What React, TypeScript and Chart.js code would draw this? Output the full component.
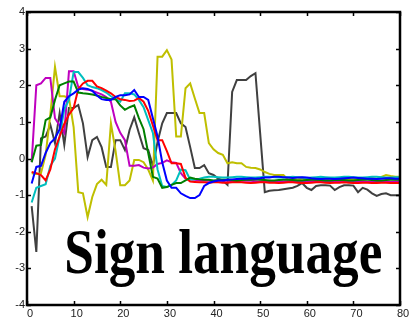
import React, { useEffect, useRef } from "react";
import { Chart, registerables } from "chart.js";

Chart.register(...registerables);

const xValues = Array.from({ length: 80 }, (_, i) => i + 1);

const blueSeries = [
  -0.68, -0.23, -0.2, 0.15, 0.42, 0.55, 0.8, 1.55, 1.7, 1.78,
  1.88, 1.92, 1.9, 1.85, 1.72, 1.62, 1.6, 1.6, 1.68, 1.73,
  1.73, 1.75, 1.87, 1.68, 1.68, 1.6, 1.1, 0.6, -0.1, -0.6,
  -0.8, -0.8, -0.95, -1.02, -1.08, -1.08, -1.0, -0.75, -0.67, -0.63,
  -0.6, -0.6, -0.58, -0.57, -0.56, -0.55, -0.55, -0.54, -0.55, -0.54,
  -0.52, -0.52, -0.5, -0.5, -0.51, -0.52, -0.53, -0.52, -0.51, -0.52,
  -0.54, -0.55, -0.56, -0.55, -0.55, -0.56, -0.55, -0.54, -0.53, -0.52,
  -0.53, -0.54, -0.55, -0.55, -0.56, -0.55, -0.54, -0.54, -0.55, -0.55,
];

const greenSeries = [
  -0.1, 0.35, 0.37, 1.05, 1.12, 1.6, 2.0, 2.05, 2.1, 2.1,
  1.8, 1.78, 1.77, 1.75, 1.72, 1.68, 1.65, 1.62, 1.62, 1.45,
  1.33, 1.4, 1.45, 1.1, 0.8, 0.15, -0.5, -0.55, -0.8, -0.78,
  -0.72, -0.67, -0.67, -0.6, -0.52, -0.55, -0.57, -0.58, -0.58, -0.6,
  -0.59, -0.58, -0.58, -0.59, -0.6, -0.59, -0.58, -0.58, -0.57, -0.58,
  -0.59, -0.6, -0.6, -0.59, -0.58, -0.58, -0.59, -0.6, -0.6, -0.59,
  -0.58, -0.58, -0.59, -0.6, -0.6, -0.59, -0.58, -0.59, -0.6, -0.6,
  -0.59, -0.58, -0.58, -0.59, -0.6, -0.6, -0.59, -0.58, -0.58, -0.58,
];

const redSeries = [
  -0.37, -0.4, -0.45, -0.6, -0.3, 0.25, 0.6, 0.95, 1.2, 1.38,
  1.9, 2.05, 2.12, 2.12, 1.97, 1.92, 1.85, 1.78, 1.68, 1.62,
  1.6, 1.57, 1.58, 1.65, 1.55, 1.3, 0.9, 0.5, 0.5, 0.2,
  -0.13, -0.13, -0.15, -0.53, -0.63, -0.64, -0.65, -0.65, -0.66, -0.65,
  -0.65, -0.66, -0.66, -0.65, -0.64, -0.65, -0.66, -0.67, -0.66, -0.65,
  -0.65, -0.66, -0.66, -0.67, -0.66, -0.65, -0.65, -0.66, -0.67, -0.67,
  -0.66, -0.65, -0.65, -0.66, -0.67, -0.66, -0.66, -0.65, -0.66, -0.67,
  -0.67, -0.66, -0.66, -0.67, -0.67, -0.66, -0.66, -0.67, -0.67, -0.67,
];

const cyanSeries = [
  -1.2, -0.8, -0.75, -0.7, -0.2, 0.0, 0.6, 1.35, 1.6, 2.36,
  2.36, 2.2, 2.0, 1.95, 1.92, 1.87, 1.8, 1.7, 1.62, 1.55,
  1.78, 1.78, 1.75, 1.6, 1.4, 1.05, 0.7, -0.3, -0.75, -0.78,
  -0.72, -0.6, -0.3, -0.32, -0.58, -0.57, -0.55, -0.52, -0.5, -0.5,
  -0.51, -0.52, -0.52, -0.51, -0.5, -0.5, -0.51, -0.52, -0.52, -0.51,
  -0.5, -0.5, -0.51, -0.52, -0.52, -0.51, -0.5, -0.51, -0.52, -0.53,
  -0.52, -0.51, -0.5, -0.51, -0.52, -0.52, -0.51, -0.5, -0.5, -0.51,
  -0.52, -0.52, -0.51, -0.5, -0.5, -0.51, -0.52, -0.52, -0.51, -0.51,
];

const magentaSeries = [
  -0.1, 2.0, 2.05, 2.2, 2.2, 1.1, 0.9, 0.7, 2.38, 2.38,
  1.95, 1.9, 1.88, 1.85, 1.8, 1.75, 1.68, 1.55, 1.0, 0.7,
  0.5, -0.2, -0.2, -0.18, -0.25, -0.27, -0.25, -0.15, -0.12, -0.05,
  -0.1, -0.12, -0.4, -0.55, -0.57, -0.58, -0.6, -0.6, -0.61, -0.62,
  -0.61, -0.6, -0.61, -0.62, -0.62, -0.61, -0.6, -0.61, -0.62, -0.63,
  -0.62, -0.61, -0.62, -0.63, -0.63, -0.62, -0.61, -0.62, -0.63, -0.63,
  -0.62, -0.62, -0.63, -0.64, -0.63, -0.62, -0.62, -0.63, -0.64, -0.63,
  -0.62, -0.63, -0.64, -0.64, -0.63, -0.62, -0.63, -0.64, -0.63, -0.63,
];

const oliveSeries = [
  -0.4, -0.42, -0.4, 0.1, 1.2, 2.5, 1.7, 1.7, 1.65, 0.86,
  -0.92, -0.95, -1.6, -1.05, -0.7, -0.58, -0.72, 0.96, 0.2, -0.73,
  -0.73, -0.6, -0.04, -0.04, -0.1, -0.3, -0.6, 2.78, 2.78, 2.96,
  2.7, 0.6, 0.6, 1.92, 2.05, 1.64, 1.24, 1.24, 0.42, 0.25,
  0.15, 0.1, -0.13, -0.1, -0.13, -0.13, -0.23, -0.25, -0.26, -0.3,
  -0.37, -0.42, -0.45, -0.45, -0.45, -0.58, -0.55, -0.57, -0.55, -0.58,
  -0.55, -0.6, -0.55, -0.57, -0.6, -0.55, -0.58, -0.56, -0.55, -0.57,
  -0.55, -0.58, -0.56, -0.54, -0.55, -0.5, -0.45, -0.48, -0.5, -0.5,
];

const graySeries = [
  -1.3, -2.55, 0.55, 0.6, 0.92, 0.42, 1.24, 0.37, 1.38, 1.38,
  1.46, 0.96, 0.04, 0.5, 0.59, 0.31, -0.23, -0.23, 0.5, 0.5,
  0.23, 0.78, 1.13, 0.69, 0.28, 0.23, -0.2, 0.45, 0.96, 1.24,
  1.24, 1.24, 0.96, 0.86, 0.31, -0.26, -0.26, -0.18, -0.4, -0.45,
  -0.55, -0.6, -0.72, 1.82, 2.14, 2.14, 2.14, 2.25, 2.33, 0.7,
  -0.92, -0.88, -0.87, -0.86, -0.84, -0.82, -0.8, -0.75, -0.67, -0.8,
  -0.86, -0.75, -0.73, -0.73, -0.74, -0.86, -0.78, -0.73, -0.73, -0.74,
  -0.92, -0.8, -0.85, -0.95, -1.02, -0.97, -0.95, -1.0, -1.0, -1.0,
];

const seriesList = [
  { name: "blue", values: blueSeries, color: "#0000ff" },
  { name: "green", values: greenSeries, color: "#008000" },
  { name: "red", values: redSeries, color: "#ff0000" },
  { name: "cyan", values: cyanSeries, color: "#00bfbf" },
  { name: "magenta", values: magentaSeries, color: "#bf00bf" },
  { name: "olive", values: oliveSeries, color: "#bfbf00" },
  { name: "gray", values: graySeries, color: "#404040" },
];

const xTicks = [0, 10, 20, 30, 40, 50, 60, 70, 80];
const yTicks = [-4, -3, -2, -1, 0, 1, 2, 3, 4];
const overlayText = "Sign language";

const framePlugin = {
  id: "frame",
  afterDatasetsDraw(chart: any) {
    const { ctx, chartArea: a, scales } = chart;
    const xs = scales.x;
    const ys = scales.y;
    ctx.save();
    // overlay text
    ctx.fillStyle = "#000";
    ctx.font = 'bold 64px "Liberation Serif", "Times New Roman", serif';
    ctx.textBaseline = "alphabetic";
    const left = xs.getPixelForValue(8);
    const right = xs.getPixelForValue(76.2);
    const base = ys.getPixelForValue(-3.12);
    const w = ctx.measureText(overlayText).width;
    ctx.translate(left, base);
    ctx.scale((right - left) / w, 1);
    ctx.fillText(overlayText, 0, 0);
    ctx.restore();

    ctx.save();
    ctx.strokeStyle = "#000";
    ctx.lineWidth = 1.5;
    const tl = 4;
    ctx.beginPath();
    xTicks.forEach((v) => {
      const p = Math.round(xs.getPixelForValue(v)) + 0.5;
      ctx.moveTo(p, a.bottom);
      ctx.lineTo(p, a.bottom - tl);
      ctx.moveTo(p, a.top);
      ctx.lineTo(p, a.top + tl);
    });
    yTicks.forEach((v) => {
      const p = Math.round(ys.getPixelForValue(v)) + 0.5;
      ctx.moveTo(a.left, p);
      ctx.lineTo(a.left + tl, p);
      ctx.moveTo(a.right, p);
      ctx.lineTo(a.right - tl, p);
    });
    ctx.stroke();
    ctx.lineWidth = 2.5;
    ctx.strokeRect(a.left, a.top, a.right - a.left, a.bottom - a.top);
    ctx.restore();
  },
};

export default function App() {
  const canvasRef = useRef<HTMLCanvasElement | null>(null);

  useEffect(() => {
    const canvas = canvasRef.current;
    if (!canvas) return;
    const chart = new Chart(canvas, {
      type: "line",
      data: {
        datasets: seriesList.map((s) => ({
          label: s.name,
          data: s.values.map((v, i) => ({ x: xValues[i], y: v })),
          borderColor: s.color,
          backgroundColor: s.color,
          borderWidth: 2,
          pointRadius: 0,
          tension: 0,
          fill: false,
        })),
      },
      options: {
        responsive: false,
        animation: false,
        events: [],
        layout: { padding: { left: 0, right: 11, top: 12, bottom: 0 } },
        plugins: {
          legend: { display: false },
          tooltip: { enabled: false },
          title: { display: false },
        },
        scales: {
          x: {
            type: "linear",
            min: 0,
            max: 80,
            afterBuildTicks: (scale: any) => {
              scale.ticks = xTicks.map((v) => ({ value: v }));
            },
            afterFit: (scale: any) => {
              scale.height = 15;
            },
            grid: { display: false, drawTicks: false },
            border: { display: false },
            ticks: {
              padding: 2,
              labelOffset: 3,
              maxRotation: 0,
              autoSkip: false,
              color: "#222",
              font: { family: '"Liberation Sans", Arial, sans-serif', size: 11 },
            },
          },
          y: {
            type: "linear",
            min: -4,
            max: 4,
            afterBuildTicks: (scale: any) => {
              scale.ticks = yTicks.map((v) => ({ value: v }));
            },
            afterFit: (scale: any) => {
              scale.width = 27;
            },
            grid: { display: false, drawTicks: false },
            border: { display: false },
            ticks: {
              padding: 2,
              autoSkip: false,
              color: "#222",
              font: { family: '"Liberation Sans", Arial, sans-serif', size: 11 },
            },
          },
        },
      },
      plugins: [framePlugin],
    });
    return () => chart.destroy();
  }, []);

  return (
    <div style={{ position: "absolute", left: 0, top: 0, width: 411, height: 320, background: "#fff" }}>
      <canvas ref={canvasRef} width={411} height={320} style={{ display: "block" }} />
    </div>
  );
}
